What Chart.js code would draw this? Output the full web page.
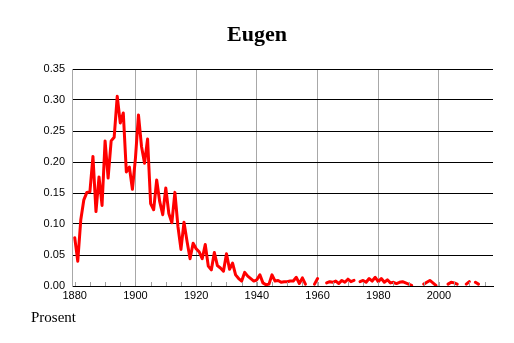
<!DOCTYPE html>
<html>
<head>
<meta charset="utf-8">
<script src="https://cdn.jsdelivr.net/npm/chart.js@4"></script>
<style>
html,body{margin:0;padding:0;background:#fff;}
#c{display:block;}
</style>
</head>
<body>
<canvas id="c" width="514" height="343"></canvas>
<script>
const title = "Eugen";
const yLabel = "Prosent";
const years = [];
for (let y = 1880; y <= 2015; y++) years.push(y);
const values = [
  0.078, 0.040, 0.107, 0.139, 0.151, 0.152, 0.209, 0.120, 0.176, 0.130, // 1880-1889
  0.234, 0.174, 0.234, 0.240, 0.306, 0.263, 0.279, 0.184, 0.192, 0.156, // 1890-1899
  0.206, 0.276, 0.225, 0.198, 0.237, 0.133, 0.123, 0.171, 0.136, 0.115, // 1900-1909
  0.158, 0.117, 0.102, 0.151, 0.096, 0.059, 0.103, 0.072, 0.044, 0.069, // 1910-1919
  0.060, 0.055, 0.044, 0.067, 0.032, 0.026, 0.054, 0.033, 0.029, 0.024, // 1920-1929
  0.052, 0.027, 0.037, 0.018, 0.012, 0.008, 0.022, 0.016, 0.012, 0.008, // 1930-1939
  0.010, 0.018, 0.005, 0.002, 0.003, 0.018, 0.008, 0.009, 0.006, 0.007, // 1940-1949
  0.007, 0.008, 0.008, 0.014, 0.004, 0.013, 0.003, null,  null,  0.003, // 1950-1959
  0.012, null,  null,  0.005, 0.007, 0.006, 0.008, 0.004, 0.009, 0.006, // 1960-1969
  0.011, 0.007, 0.009, null,  0.007, 0.009, 0.006, 0.012, 0.008, 0.014, // 1970-1979
  0.007, 0.012, 0.006, 0.010, 0.005, 0.006, 0.004, 0.006, 0.007, 0.005, // 1980-1989
  0.003, 0.001, null,  null,  null,  0.003, 0.006, 0.009, 0.005, 0.001, // 1990-1999
  null,  null,  null,  0.003, 0.006, 0.005, 0.003, null,  null,  0.003, // 2000-2009
  0.007, null,  0.006, 0.003, null,  null                              // 2010-2015
];
const xTicks = [1880, 1900, 1920, 1940, 1960, 1980, 2000];
const yTicks = [0, 0.05, 0.10, 0.15, 0.20, 0.25, 0.30, 0.35];
const minorXTicks = [];
for (let y = 1880; y <= 2015; y += 5) minorXTicks.push(y);

const decor = {
  id: 'decor',
  afterDraw(chart) {
    const ctx = chart.ctx;
    const xs = chart.scales.x;
    const ca = chart.chartArea;
    ctx.save();
    ctx.strokeStyle = '#a0a0a0';
    ctx.lineWidth = 1;
    minorXTicks.forEach(v => {
      const px = Math.round(xs.getPixelForValue(v)) + 0.5;
      ctx.beginPath();
      ctx.moveTo(px, ca.bottom);
      ctx.lineTo(px, ca.bottom - 4);
      ctx.stroke();
    });
    ctx.fillStyle = '#000';
    ctx.font = 'bold 22px "Liberation Serif", "Times New Roman", serif';
    ctx.textAlign = 'center';
    ctx.textBaseline = 'alphabetic';
    ctx.fillText(title, 257, 41);
    ctx.font = '15px "Liberation Serif", "Times New Roman", serif';
    ctx.textAlign = 'left';
    ctx.fillText(yLabel, 31, 322);
    ctx.restore();
  }
};

new Chart(document.getElementById('c'), {
  type: 'line',
  data: {
    datasets: [{
      data: years.map((y, i) => ({x: y, y: values[i]})),
      borderColor: '#ff0000',
      borderWidth: 3,
      borderJoinStyle: 'round',
      borderCapStyle: 'round',
      pointRadius: 0,
      tension: 0,
      spanGaps: false,
      fill: false
    }]
  },
  options: {
    responsive: false,
    animation: false,
    layout: {padding: {top: 69, right: 21, left: 0, bottom: 0}},
    plugins: {legend: {display: false}, title: {display: false}, tooltip: {enabled: false}},
    scales: {
      x: {
        type: 'linear',
        min: 1879.1,
        max: 2017.8,
        afterBuildTicks: s => { s.ticks = xTicks.map(v => ({value: v})); },
        afterFit: s => { s.height = 57; },
        ticks: {
          color: '#000',
          font: {family: '"Liberation Sans", Arial, sans-serif', size: 11},
          padding: 3,
          maxRotation: 0,
          autoSkip: false,
          callback: v => String(v)
        },
        grid: {
          color: c => (c.tick && c.tick.value === 1880) ? 'rgba(0,0,0,0)' : '#a8a8a8',
          drawTicks: false,
          lineWidth: 1
        },
        border: {display: true, color: '#000', width: 1}
      },
      y: {
        min: 0,
        max: 0.35,
        afterBuildTicks: s => { s.ticks = yTicks.map(v => ({value: v})); },
        afterFit: s => { s.width = 72; },
        ticks: {
          color: '#000',
          font: {family: '"Liberation Sans", Arial, sans-serif', size: 11},
          padding: 7,
          callback: v => v.toFixed(2)
        },
        grid: {color: '#000', drawTicks: false, lineWidth: 1},
        border: {display: true, color: '#a8a8a8', width: 1}
      }
    }
  },
  plugins: [decor]
});
</script>
</body>
</html>
